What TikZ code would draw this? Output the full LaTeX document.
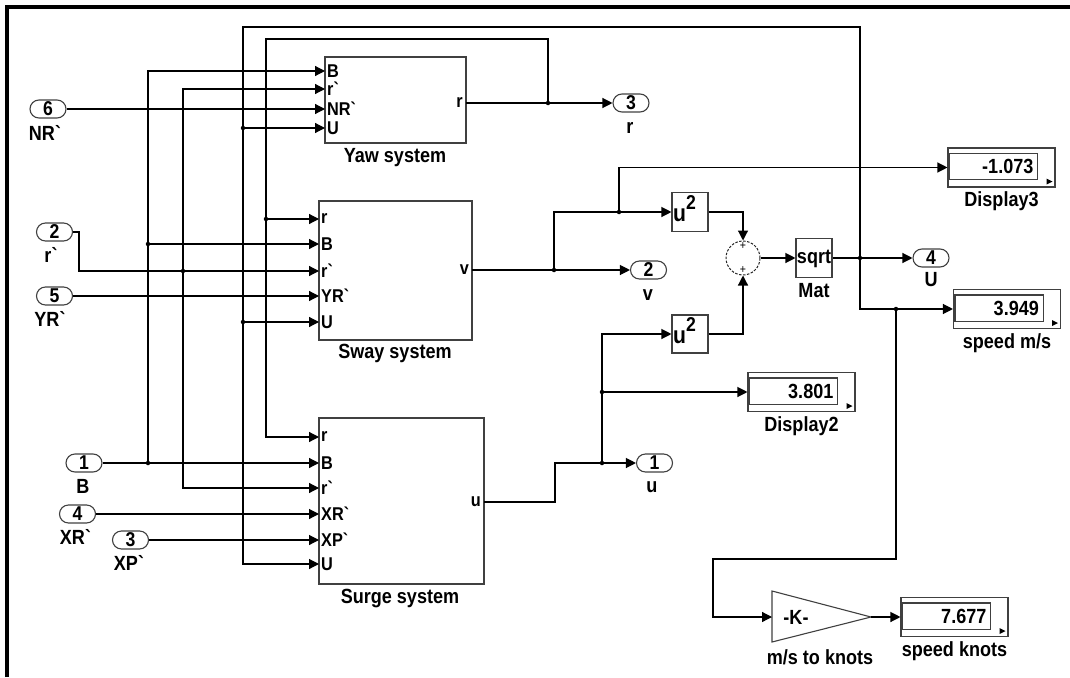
\documentclass[tikz,border=0pt]{standalone}
\usepackage{fontspec}
\newfontfamily\simf{Liberation Sans}[FakeStretch=0.88]
\usetikzlibrary{arrows.meta,calc}
\newcommand\ttlf{\simf\bfseries\fontsize{20.5}{22}\selectfont}
\newcommand\prtf{\simf\bfseries\fontsize{18.5}{20}\selectfont}
\newcommand\numf{\simf\bfseries\fontsize{20}{20}\selectfont}
\newcommand\plusf{\simf\fontsize{12}{12}\selectfont}
\newcommand\usq{{\fontsize{24}{24}\selectfont u}\raisebox{11.5pt}{\fontsize{20}{20}\selectfont 2}}
\newcommand\simdisp[5]{%
  \node[dispo] (#1) at (#2,#3) {};
  \draw[blkl] ($(#1.north west)+(2,6)$) rectangle ($(#1.south east)+(-18,-8)$);
  \node[valt, anchor=east] (#1v) at ($(#1.east)+(-22,-1)$) {#4};
  \fill ($(#1.south east)+(-9,-9)$) -- ++(6,3) -- ++(-6,3) -- cycle;
  \node[ttl] (#1l) at ($(#1.south)+(0,14)$) {#5};
}
\tikzset{
 blkl/.style={draw=black!75, line width=1.1pt},
 blk/.style={blkl, inner sep=0pt, rectangle},
 dispo/.style={blk, minimum width=107pt, minimum height=39pt},
 wire/.style={line width=1.2pt, black},
 arr/.style={wire, -{Triangle[length=10pt,width=10pt]}},
 jdot/.style={circle, fill=black, inner sep=0pt, minimum size=4.5pt},
 pill/.style={blkl, rounded corners=9pt, minimum width=36pt, minimum height=18pt, inner sep=0pt, font=\numf},
 ttl/.style={inner sep=0pt, font=\ttlf},
 plbl/.style={inner sep=0pt, font=\prtf, anchor=west},
 olbl/.style={inner sep=0pt, font=\prtf, anchor=east},
 valt/.style={inner sep=0pt, font=\ttlf},
}
\begin{document}
\begin{tikzpicture}[x=1pt,y=-1pt]
\useasboundingbox (0,0) rectangle (1070,677);
\draw[line width=3.2pt] (7,677) -- (7,7) -- (1070,7);

% ---------- subsystem blocks ----------
\node[blk, minimum width=141pt, minimum height=86pt] (yaw) at (395.5,100) {};
\node[blk, minimum width=153pt, minimum height=139pt] (sway) at (395.5,270.5) {};
\node[blk, minimum width=165pt, minimum height=166pt] (surge) at (401.5,501) {};
\node[ttl] (yawl) at (395,158) {Yaw system};
\node[ttl] (swayl) at (395,353) {Sway system};
\node[ttl] (surgel) at (400,599) {Surge system};

% port coordinates
\coordinate (yawB) at (325,71);
\coordinate (yawRp) at (325,89);
\coordinate (yawNR) at (325,109);
\coordinate (yawU) at (325,128);
\coordinate (yawout) at (466,103);
\coordinate (swayR) at (319,219);
\coordinate (swayB) at (319,244);
\coordinate (swayRp) at (319,271);
\coordinate (swayYR) at (319,296);
\coordinate (swayU) at (319,322);
\coordinate (swayout) at (472,270);
\coordinate (surgeR) at (319,437);
\coordinate (surgeB) at (319,463);
\coordinate (surgeRp) at (319,488);
\coordinate (surgeXR) at (319,514);
\coordinate (surgeXP) at (319,540);
\coordinate (surgeU) at (319,564);
\coordinate (surgeout) at (484,502);

% port labels
\node[plbl] (lyB) at (327,71) {B};
\node[plbl] (lyRp) at (327,89) {r`};
\node[plbl] (lyNR) at (327,109) {NR`};
\node[plbl] (lyU) at (327,128) {U};
\node[olbl] (lyo) at (463,103) {r};
\node[plbl] (lsR) at (321,219) {r};
\node[plbl] (lsB) at (321,244) {B};
\node[plbl] (lsRp) at (321,271) {r`};
\node[plbl] (lsYR) at (321,296) {YR`};
\node[plbl] (lsU) at (321,322) {U};
\node[olbl] (lso) at (469,270) {v};
\node[plbl] (luR) at (321,437) {r};
\node[plbl] (luB) at (321,463) {B};
\node[plbl] (luRp) at (321,488) {r`};
\node[plbl] (luXR) at (321,514) {XR`};
\node[plbl] (luXP) at (321,540) {XP`};
\node[plbl] (luU) at (321,564) {U};
\node[olbl] (luo) at (481,502) {u};

% ---------- inports ----------
\node[pill] (in6) at (48,109) {6};
\node[ttl] (in6l) at (45,133) {NR`};
\node[pill] (in2) at (54.5,232) {2};
\node[ttl] (in2l) at (51,255) {r`};
\node[pill] (in5) at (54.5,296) {5};
\node[ttl] (in5l) at (50,319) {YR`};
\node[pill] (in1) at (84,463) {1};
\node[ttl] (in1l) at (83,486) {B};
\node[pill] (in4) at (77.5,514) {4};
\node[ttl] (in4l) at (75.5,537) {XR`};
\node[pill] (in3) at (130.5,540) {3};
\node[ttl] (in3l) at (129,563) {XP`};

% ---------- outports ----------
\node[pill] (out3) at (631,103) {3};
\node[ttl] (out3l) at (630,128) {r};
\node[pill] (out2) at (648.5,270) {2};
\node[ttl] (out2l) at (648,295) {v};
\node[pill] (out1) at (654.5,463) {1};
\node[ttl] (out1l) at (652,487) {u};
\node[pill] (out4) at (931,258) {4};
\node[ttl] (out4l) at (931,280) {U};

% ---------- math blocks ----------
\node[blk, minimum width=36pt, minimum height=39pt] (uu1) at (690,212) {};
\node[inner sep=0pt, font=\simf\bfseries, anchor=base west] (uu1t) at (673,221) {\usq};
\node[blk, minimum width=36pt, minimum height=38pt] (uu2) at (690,334) {};
\node[inner sep=0pt, font=\simf\bfseries, anchor=base west] (uu2t) at (673,343) {\usq};
\node[circle, draw=black!85, line width=1pt, dash pattern=on 2.5pt off 1.5pt, minimum size=34pt, inner sep=0pt] (sum) at (743,258) {};
\node[inner sep=0pt, font=\plusf] (sump1) at (743,246) {+};
\node[inner sep=0pt, font=\plusf] (sump2) at (743,270) {+};
\node[blk, minimum width=36pt, minimum height=39pt] (sqrtb) at (814,258) {};
\node[inner sep=0pt, font=\ttlf, anchor=base] (sqrtt) at (814,263) {sqrt};
\node[ttl] (matl) at (814,291) {Mat};

% gain
\draw[blkl] (772,591) -- (871,617) -- (772,642) -- cycle;
\coordinate (gainin) at (772,617);
\coordinate (gainout) at (871,617);
\node[ttl] (gaink) at (796,617) {-K-};
\node[ttl] (gainl) at (820,657) {m/s to knots};

% displays
\simdisp{disp3}{1001.5}{167.5}{-1.073}{Display3}
\simdisp{disp2}{801.5}{392}{3.801}{Display2}
\simdisp{dispms}{1007}{309}{3.949}{speed m/s}
\simdisp{dispkn}{954.5}{617}{7.677}{speed knots}

% ---------- junctions ----------
\coordinate (jB1) at (148,244);
\coordinate (jB2) at (148,463);
\coordinate (jRp) at (183,271);
\coordinate (jU1) at (243,128);
\coordinate (jU2) at (243,322);
\coordinate (jr2) at (266,219);
\coordinate (jr) at (548,103);
\coordinate (jv) at (554,270);
\coordinate (jv2) at (619,212);
\coordinate (ju) at (602,463);
\coordinate (ju2) at (602,392);
\coordinate (jU) at (860,258);
\coordinate (jms) at (896,309);

% ---------- wires ----------
% B bus
\draw[arr] (jB2) |- (yawB);
\draw[arr] (jB1) -- (swayB);
\draw[arr] (in1.east) -- (surgeB);
% r` bus
\draw[arr] (in2.east) -- ++(6,0) |- (swayRp);
\draw[arr] (jRp) |- (yawRp);
\draw[arr] (jRp) |- (surgeRp);
% other inputs
\draw[arr] (in6.east) -- (yawNR);
\draw[arr] (in5.east) -- (swayYR);
\draw[arr] (in4.east) -- (surgeXR);
\draw[arr] (in3.east) -- (surgeXP);
% U bus
\draw[arr] (jU) |- (243,27) |- (surgeU);
\draw[arr] (jU1) -- (yawU);
\draw[arr] (jU2) -- (swayU);
% r bus
\draw[arr] (yawout) -- (out3.west);
\draw[arr] (jr) |- (266,39) |- (surgeR);
\draw[arr] (jr2) -- (swayR);
% v
\draw[arr] (swayout) -- (out2.west);
\draw[arr] (jv) |- (uu1.west);
\draw[arr] (jv2) |- (disp3.west);
% u
\draw[arr] (surgeout) -| (555,463) -- (out1.west);
\draw[arr] (ju) |- (uu2.west);
\draw[arr] (ju2) -- (disp2.west);
% sum and sqrt
\draw[arr] (uu1.east) -| (sum.north);
\draw[arr] (uu2.east) -| (sum.south);
\draw[arr] (sum.east) -- (sqrtb.west);
\draw[arr] (sqrtb.east) -- (out4.west);
% speed
\draw[arr] (jU) |- (dispms.west);
\draw[arr] (jms) |- (713,559) |- (gainin);
\draw[arr] (gainout) -- (dispkn.west);

% dots
\foreach \j in {jB1,jB2,jRp,jU1,jU2,jr2,jr,jv,jv2,ju,ju2,jU,jms}
  \node[jdot] at (\j) {};
\end{tikzpicture}
\end{document}
